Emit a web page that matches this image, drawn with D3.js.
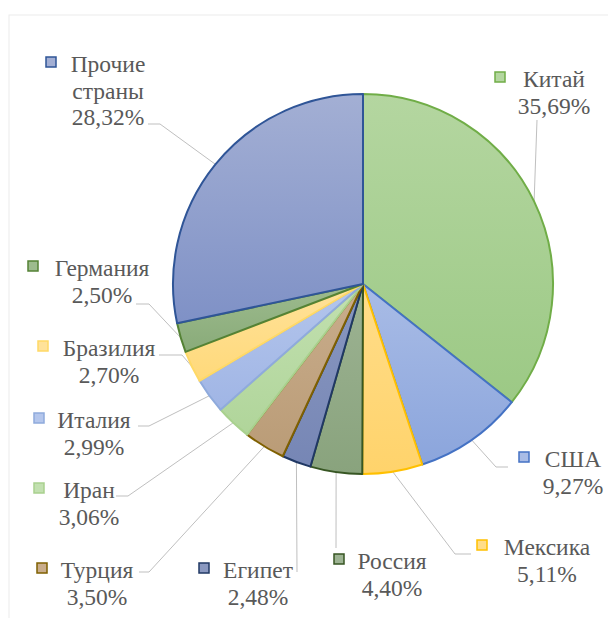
<!DOCTYPE html>
<html>
<head>
<meta charset="utf-8">
<script src="https://cdn.jsdelivr.net/npm/d3@7"></script>
</head>
<body style="margin:0">
<svg id="chart" width="608" height="618"></svg>
<script>
// shares of world production, %, clockwise from 12 o'clock
const countries = ["Китай", "США", "Мексика", "Россия", "Египет", "Турция", "Иран", "Италия", "Бразилия", "Германия", "Прочие страны"];
const shares = [35.69, 9.27, 5.11, 4.40, 2.48, 3.50, 3.06, 2.99, 2.70, 2.50, 28.32];

// fill gradient top / bottom and outline colour for each slice
const fillTop = ["#b4d6a0", "#a9bce6", "#ffdd8a", "#9db393", "#8a98c0", "#c9ad8c", "#c2e0b0", "#b4c6ec", "#ffe29a", "#9dbb8e", "#a3afd4"];
const fillBottom = ["#9cc985", "#8ba5dc", "#ffd36b", "#89a37d", "#7686b5", "#ba9c77", "#b0d59a", "#a0b5e5", "#ffd97a", "#89ab79", "#7f91c6"];
const strokes = ["#70ad47", "#4472c4", "#ffc000", "#375623", "#203864", "#7f6000", "#a9d18e", "#8faadc", "#ffd966", "#548235", "#2f5597"];

// label placement: centre x of text, first baseline, marker x, leader points from label side
const labelLayout = [
  {cx: 554, y: 87,  mx: 495, lines: [[537, 120]]},
  {cx: 573, y: 467, mx: 519, lines: [[508, 467], [496, 467]]},
  {cx: 547, y: 555, mx: 477, lines: [[471, 554], [455, 554]]},
  {cx: 392, y: 569, mx: 334, lines: [[336, 548]]},
  {cx: 258, y: 578, mx: 199, lines: [[297, 572]]},
  {cx: 97,  y: 578, mx: 37,  lines: [[139, 572], [149, 572]]},
  {cx: 89,  y: 498, mx: 34,  lines: [[116, 496], [128, 496]]},
  {cx: 94,  y: 428, mx: 34,  lines: [[138, 426], [149, 426]]},
  {cx: 109, y: 356, mx: 38,  lines: [[159, 355], [182, 355]]},
  {cx: 102, y: 276, mx: 28,  lines: [[136, 304], [149, 304]]},
  {cx: 108, y: 72,  mx: 46,  lines: [[148, 124], [160, 124]]}
];

const cx = 363, cy = 284, r = 190;
const lineH = 26.5;
const fmt = v => v.toFixed(2).replace(".", ",") + "%";

const svg = d3.select("#chart");

// faint chart-area border
svg.append("rect")
  .attr("x", 9).attr("y", 15)
  .attr("width", 640).attr("height", 640)
  .attr("fill", "none")
  .attr("stroke", "#ececec");

const defs = svg.append("defs");
countries.forEach((c, i) => {
  const g = defs.append("linearGradient")
    .attr("id", "grad" + i)
    .attr("x1", 0).attr("y1", 0).attr("x2", 0).attr("y2", 1);
  g.append("stop").attr("offset", "0%").attr("stop-color", fillTop[i]);
  g.append("stop").attr("offset", "100%").attr("stop-color", fillBottom[i]);
});

const pie = d3.pie().sort(null).value(d => d);
const arcs = pie(shares);
const arc = d3.arc().innerRadius(0).outerRadius(r);

const edgePoint = d => {
  const a = (d.startAngle + d.endAngle) / 2;
  return [cx + r * Math.sin(a), cy - r * Math.cos(a)];
};

// leader lines
svg.append("g")
  .attr("fill", "none")
  .attr("stroke", "#bfbfbf")
  .attr("stroke-width", 1)
  .selectAll("path")
  .data(arcs)
  .join("path")
  .attr("d", (d, i) => d3.line()(labelLayout[i].lines.concat([edgePoint(d)])));

// slices
svg.append("g")
  .attr("transform", `translate(${cx},${cy})`)
  .selectAll("path")
  .data(arcs)
  .join("path")
  .attr("d", arc)
  .attr("fill", (d, i) => `url(#grad${i})`)
  .attr("stroke", (d, i) => strokes[i])
  .attr("stroke-width", 2)
  .attr("stroke-linejoin", "round");

// labels: one text element per line
countries.forEach((c, i) => {
  const L = labelLayout[i];
  const nameLines = c === "Прочие страны" ? ["Прочие", "страны"] : [c];
  nameLines.concat([fmt(shares[i])]).forEach((s, k) => {
    svg.append("text")
      .attr("x", L.cx)
      .attr("y", L.y + k * lineH)
      .attr("font-family", "Liberation Serif")
      .attr("font-size", 23.5)
      .attr("fill", "#595959")
      .attr("text-anchor", "middle")
      .text(s);
  });
  svg.append("rect")
    .attr("x", L.mx)
    .attr("y", L.y - 15)
    .attr("width", 10)
    .attr("height", 10)
    .attr("fill", fillTop[i])
    .attr("stroke", strokes[i])
    .attr("stroke-width", 1.5);
});
</script>
</body>
</html>
